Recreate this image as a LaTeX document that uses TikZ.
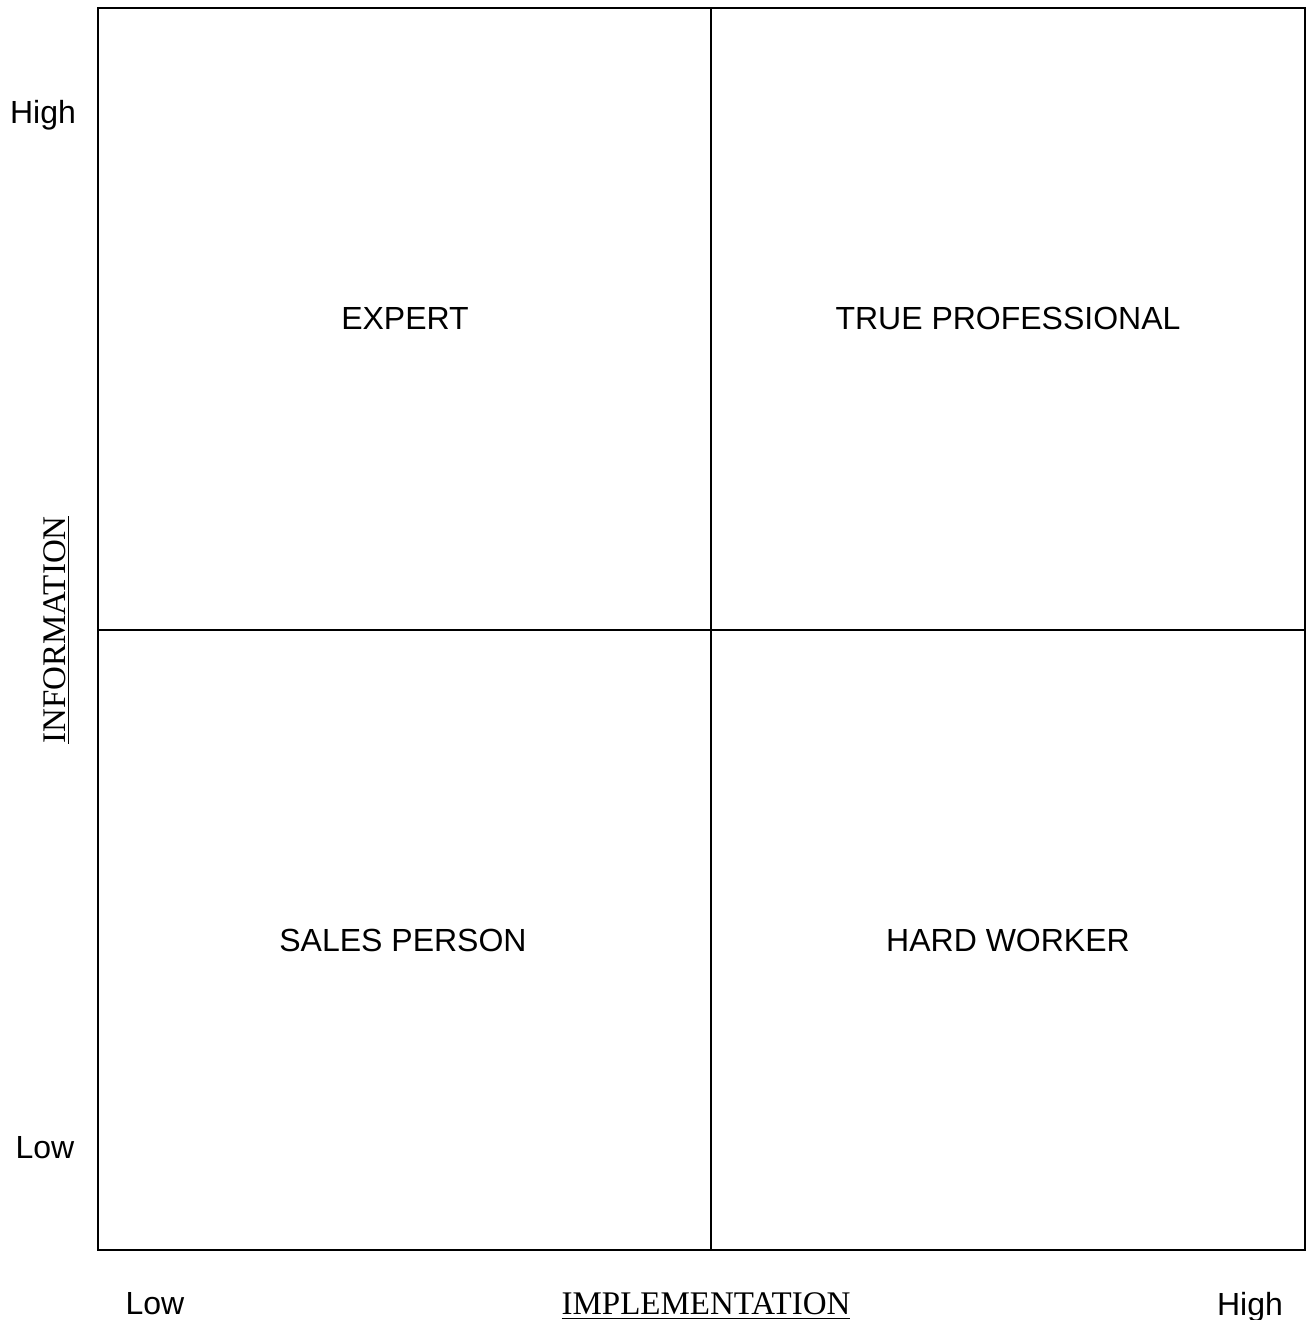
\documentclass[tikz,border=0pt]{standalone}
\usepackage{fontspec}
\setmainfont{Liberation Serif}
\setsansfont{Liberation Sans}
\begin{document}
\begin{tikzpicture}[x=0.5pt,y=-0.5pt,
    quad/.style={font=\sffamily\fontsize{16}{19}\selectfont},
    axis/.style={font=\rmfamily\fontsize{16.5}{19}\selectfont},
    grid line/.style={line width=1pt}]
  \useasboundingbox (0,0) rectangle (1313,1320);
  % the four quadrants
  \draw[grid line] (98,8) rectangle (1305,1250);
  \draw[grid line] (711,8) -- (711,1250);
  \draw[grid line] (98,630) -- (1305,630);
  \node[quad] (expert) at (405,318) {EXPERT};
  \node[quad] (truepro) at (1008,318) {TRUE PROFESSIONAL};
  \node[quad] (sales) at (403,940) {SALES PERSON};
  \node[quad] (worker) at (1008,940) {HARD WORKER};
  % axis labels
  \node[quad] (yhigh) at (43,115) {High};
  \node[quad] (ylow) at (45,1148) {Low};
  \node[axis,rotate=90] (info) at (57,630) {\underline{INFORMATION}};
  \node[quad] (xlow) at (155,1304) {Low};
  \node[quad] (xhigh) at (1250,1307) {High};
  \node[axis] (impl) at (706,1306) {\underline{IMPLEMENTATION}};
\end{tikzpicture}
\end{document}
